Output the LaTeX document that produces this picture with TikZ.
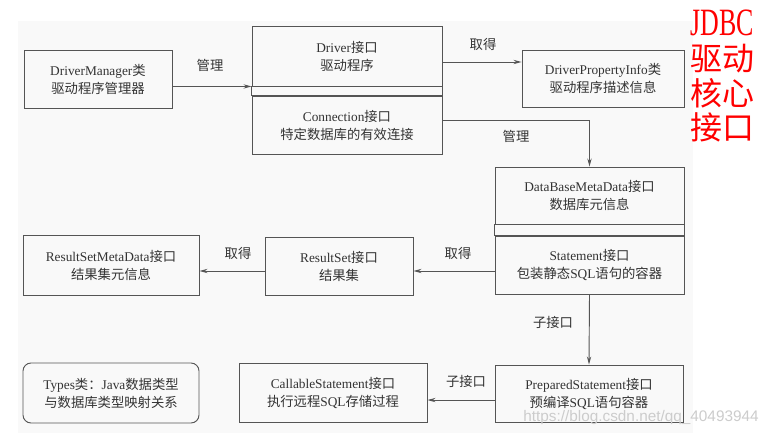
\documentclass[tikz,border=0pt]{standalone}
\usepackage{fontspec}
\setmainfont{Liberation Serif}
\newfontfamily\cjk{Noto Sans CJK SC}
\newcommand{\zh}[1]{{\cjk #1}}
\newdimen\pxu \pxu=0.75pt
\usetikzlibrary{arrows.meta}
\definecolor{txt}{HTML}{333333}
\definecolor{ln}{HTML}{555555}
\definecolor{bg}{HTML}{F9F9F9}
\tikzset{
  box/.style args={#1x#2}{draw=ln, line width=0.7pt, text=txt, align=center,
    inner sep=0pt, minimum width=#1\pxu, minimum height=#2\pxu,
    font=\fontsize{10}{13.5}\selectfont},
  arr/.style={draw=ln, line width=0.7pt, -{Stealth[length=6pt,width=3.2pt]}},
  lbl/.style={text=txt, font=\fontsize{10}{12}\selectfont\cjk, inner sep=0pt},
  red/.style={text=red, inner sep=0pt, font=\fontsize{24}{24}\selectfont\cjk}
}
\begin{document}
\begin{tikzpicture}[x=0.75pt,y=-0.75pt]
\useasboundingbox (0,0) rectangle (773,438);
\fill[white] (0,0) rectangle (773,438);
\fill[bg] (18,21) rectangle (693,433);

\node[box=148x58] (dm) at (98,79) {DriverManager\zh{类}\\\zh{驱动程序管理器}};
\node[box=190x60] (drv) at (347,56) {Driver\zh{接口}\\\zh{驱动程序}};
\node[box=190x58] (conn) at (347,125) {Connection\zh{接口}\\\zh{特定数据库的有效连接}};
\draw[ln, line width=0.7pt] (drv.south west) rectangle (conn.north east);
\node[box=162x57] (dpi) at (603,78.5) {DriverPropertyInfo\zh{类}\\\zh{驱动程序描述信息}};
\node[box=189x57] (dbmd) at (589.5,195.5) {DataBaseMetaData\zh{接口}\\\zh{数据库元信息}};
\node[box=189x58] (stmt) at (589.5,265) {Statement\zh{接口}\\\zh{包装静态}SQL\zh{语句的容器}};
\draw[ln, line width=0.7pt] (dbmd.south west) rectangle (stmt.north east);
\node[box=148x58] (rs) at (339,266) {ResultSet\zh{接口}\\\zh{结果集}};
\node[box=176x60] (rsmd) at (111,265) {ResultSetMetaData\zh{接口}\\\zh{结果集元信息}};
\node[box=176x60, rounded corners=6pt] (types) at (111,393) {Types\zh{类：}Java\zh{数据类型}\\\zh{与数据库类型映射关系}};
\node[box=188x59] (call) at (333,392.5) {CallableStatement\zh{接口}\\\zh{执行远程}SQL\zh{存储过程}};
\node[box=188x57] (prep) at (589,393.5) {PreparedStatement\zh{接口}\\\zh{预编译}SQL\zh{语句容器}};

% connectors
\draw[arr] (dm.east |- drv.south) -- (drv.south west);
\coordinate (p1) at ([yshift=-4.5pt]drv.east);
\draw[arr] (p1) -- (p1 -| dpi.west);
\coordinate (p2) at ([yshift=3.75pt]conn.east);
\draw[arr] (p2) -| (dbmd.north);
\coordinate (p3) at ([yshift=-4.5pt]stmt.west);
\draw[arr] (p3) -- (p3 -| rs.east);
\coordinate (p4) at ([yshift=-3.75pt]rs.west);
\draw[arr] (p4) -- (p4 -| rsmd.east);
\draw[arr] (stmt.south) -- (prep.north);
\coordinate (p5) at ([yshift=-4.9pt]prep.west);
\draw[arr] (p5) -- (p5 -| call.east);

% labels
\node[lbl] (l1) at (210,65) {管理};
\node[lbl] (l2) at (483,44) {取得};
\node[lbl] (l3) at (516,136) {管理};
\node[lbl] (l4) at (458,253) {取得};
\node[lbl] (l5) at (238,253) {取得};
\node[lbl] (l6) at (553,322) {子接口};
\node[lbl] (l7) at (466,381) {子接口};

% red title
\node[text=red, inner sep=0pt] (t1) at (722,23) {\scalebox{0.67}[1]{\fontsize{29}{29}\selectfont JDBC}};
\node[red] (t2) at (722,59) {驱动};
\node[red] (t3) at (722,93) {核心};
\node[red] (t4) at (722,127) {接口};

% watermark
\node[text=gray!40, inner sep=0pt, font=\fontspec{Liberation Sans}\fontsize{11.5}{11.5}\selectfont] (wm) at (641,418) {https://blog.csdn.net/qq\_40493944};
\end{tikzpicture}
\end{document}
